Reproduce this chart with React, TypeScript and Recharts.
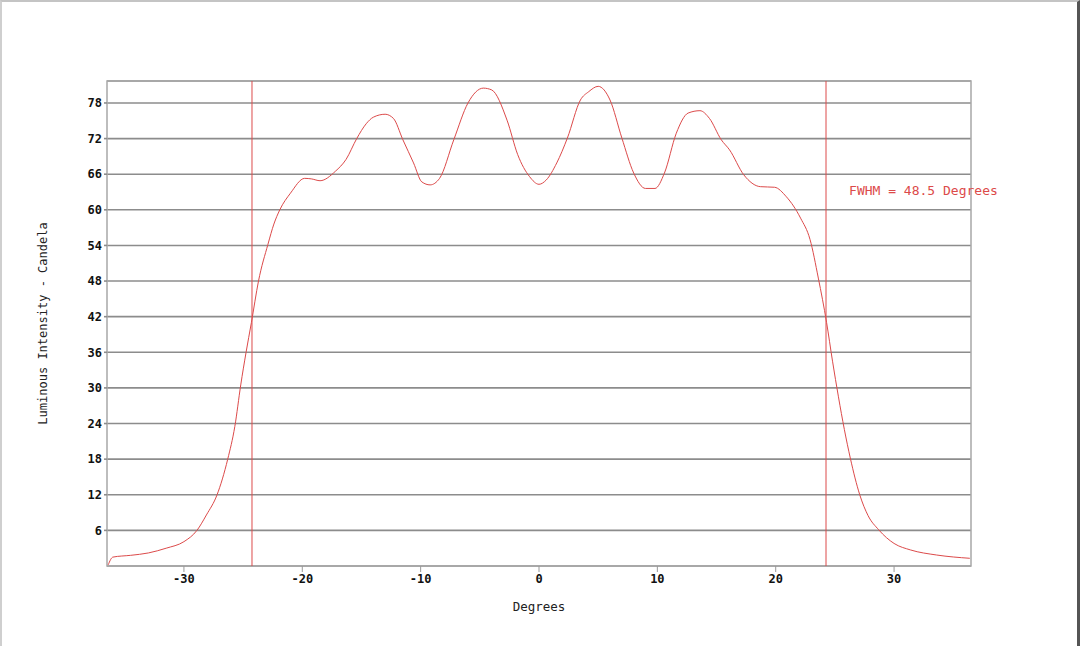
import { ComposedChart, Line, XAxis, YAxis, CartesianGrid, ReferenceLine, ReferenceArea, ReferenceDot, Label } from 'recharts';

// Angle (degrees) and luminous intensity (candela)
const degrees = [
  -36.4, -36.0, -34.5, -33.0, -31.5, -30.0, -28.9, -28.1, -27.2, -26.3, -25.7, -25.2, -24.75, -24.3,
  -23.7, -22.9, -22.4, -21.9, -21.0, -19.8, -19.2, -18.5, -17.2, -16.3, -15.4, -14.6, -14.0, -13.0,
  -12.3, -11.5, -10.6, -9.9, -9.2, -8.4, -7.2, -6.0, -4.7, -4.0, -2.7, -1.8, -0.8, 0.0, 0.6, 1.5,
  2.4, 3.5, 4.2, 5.0, 6.0, 7.0, 8.0, 9.0, 9.8, 10.6, 11.6, 12.6, 13.6, 14.4, 15.4, 16.1, 17.3, 18.7,
  19.9, 20.9, 22.1, 22.9, 23.6, 24.3, 24.8, 25.3, 25.8, 26.3, 27.1, 27.8, 28.7, 30.0, 31.4,
  33.6, 36.4,
];
const candela = [
  0.2, 1.5, 1.8, 2.2, 3.0, 4.1, 6.0, 8.6, 12.0, 18.0, 23.5, 30.5, 36.0, 41.0,
  48.0, 54.2, 57.6, 60.0, 62.8, 65.3, 65.2, 64.9, 66.5, 68.5, 72.0, 74.5, 75.6, 76.1,
  75.4, 71.8, 67.9, 64.7, 64.2, 65.3, 71.8, 78.0, 80.5, 80.2, 75.1, 69.3, 65.6, 64.3, 65.0, 67.9,
  72.1, 78.5, 79.9, 80.8, 78.5, 72.1, 66.2, 63.6, 63.6, 66.2, 72.9, 76.3, 76.7, 75.4, 71.8, 70.1, 65.9, 63.9,
  63.8, 62.2, 58.6, 55.0, 48.5, 41.0, 34.5, 28.5, 23.0, 18.2, 12.0, 8.5, 6.1, 3.8, 2.7,
  1.85, 1.3,
];

const xTicks = [-30, -20, -10, 0, 10, 20, 30];
const yTicks = [6, 12, 18, 24, 30, 36, 42, 48, 54, 60, 66, 72, 78];
const fwhmEdges = [-24.25, 24.25];
const fwhmText = 'FWHM = 48.5 Degrees';

const X_DOMAIN: [number, number] = [-36.5, 36.5];
const Y_DOMAIN: [number, number] = [0, 81.7];

const data = degrees.map((d, i) => ({ deg: d, cd: candela[i] }));

const MONO = '"DejaVu Sans Mono", monospace';
const RED = '#dc4a4a';

export default function App() {
  return (
    <div
      style={{
        position: 'fixed',
        left: 0,
        top: 0,
        width: 1080,
        height: 646,
        background: '#fff',
        boxSizing: 'border-box',
        borderTop: '2px solid #c4c4c4',
        borderLeft: '2px solid #cfcfcf',
        borderRight: '3px solid #555',
        overflow: 'hidden',
      }}
    >
      <div style={{ position: 'absolute', left: -2, top: -2 }}>
        <ComposedChart width={1080} height={646} data={data} margin={{ top: 81, right: 109, left: 47, bottom: 50 }}>
          <CartesianGrid vertical={false} stroke="#8c8c8c" strokeWidth={1.6} />
          <ReferenceArea
            x1={X_DOMAIN[0]}
            x2={X_DOMAIN[1]}
            y1={Y_DOMAIN[0]}
            y2={Y_DOMAIN[1]}
            fill="none"
            stroke="#a8a8a8"
            strokeWidth={1.5}
            fillOpacity={0}
          />
          <XAxis
            type="number"
            dataKey="deg"
            domain={X_DOMAIN}
            ticks={xTicks}
            allowDataOverflow
            axisLine={false}
            tickLine={{ stroke: '#999' }}
            tickSize={6}
            height={30}
            tick={{ fontFamily: MONO, fontSize: 12, fill: '#111', fontWeight: 600 }}
          >
            <Label value="Degrees" position="bottom" offset={6} style={{ fontFamily: MONO, fontSize: 12.5, fill: '#222' }} />
          </XAxis>
          <YAxis
            type="number"
            domain={Y_DOMAIN}
            ticks={yTicks}
            allowDataOverflow
            axisLine={false}
            tickLine={{ stroke: '#8c8c8c', strokeWidth: 1.6 }}
            tickSize={3}
            width={60}
            tick={{ fontFamily: MONO, fontSize: 12, fill: '#111', fontWeight: 600 }}
          >
            <Label
              value="Luminous Intensity - Candela"
              angle={-90}
              position="insideLeft"
              offset={-4}
              style={{ textAnchor: 'middle', fontFamily: MONO, fontSize: 12, fill: '#222' }}
            />
          </YAxis>
          {fwhmEdges.map((x) => (
            <ReferenceLine key={x} x={x} stroke={RED} strokeWidth={1} />
          ))}
          <ReferenceDot
            x={26.2}
            y={63.2}
            r={0}
            stroke="none"
            fill="none"
            label={{ value: fwhmText, position: 'right', offset: 0, fill: RED, fontFamily: MONO, fontSize: 13 }}
          />
          <Line
            type="monotone"
            dataKey="cd"
            stroke={RED}
            strokeWidth={1}
            dot={false}
            isAnimationActive={false}
          />
        </ComposedChart>
      </div>
    </div>
  );
}
